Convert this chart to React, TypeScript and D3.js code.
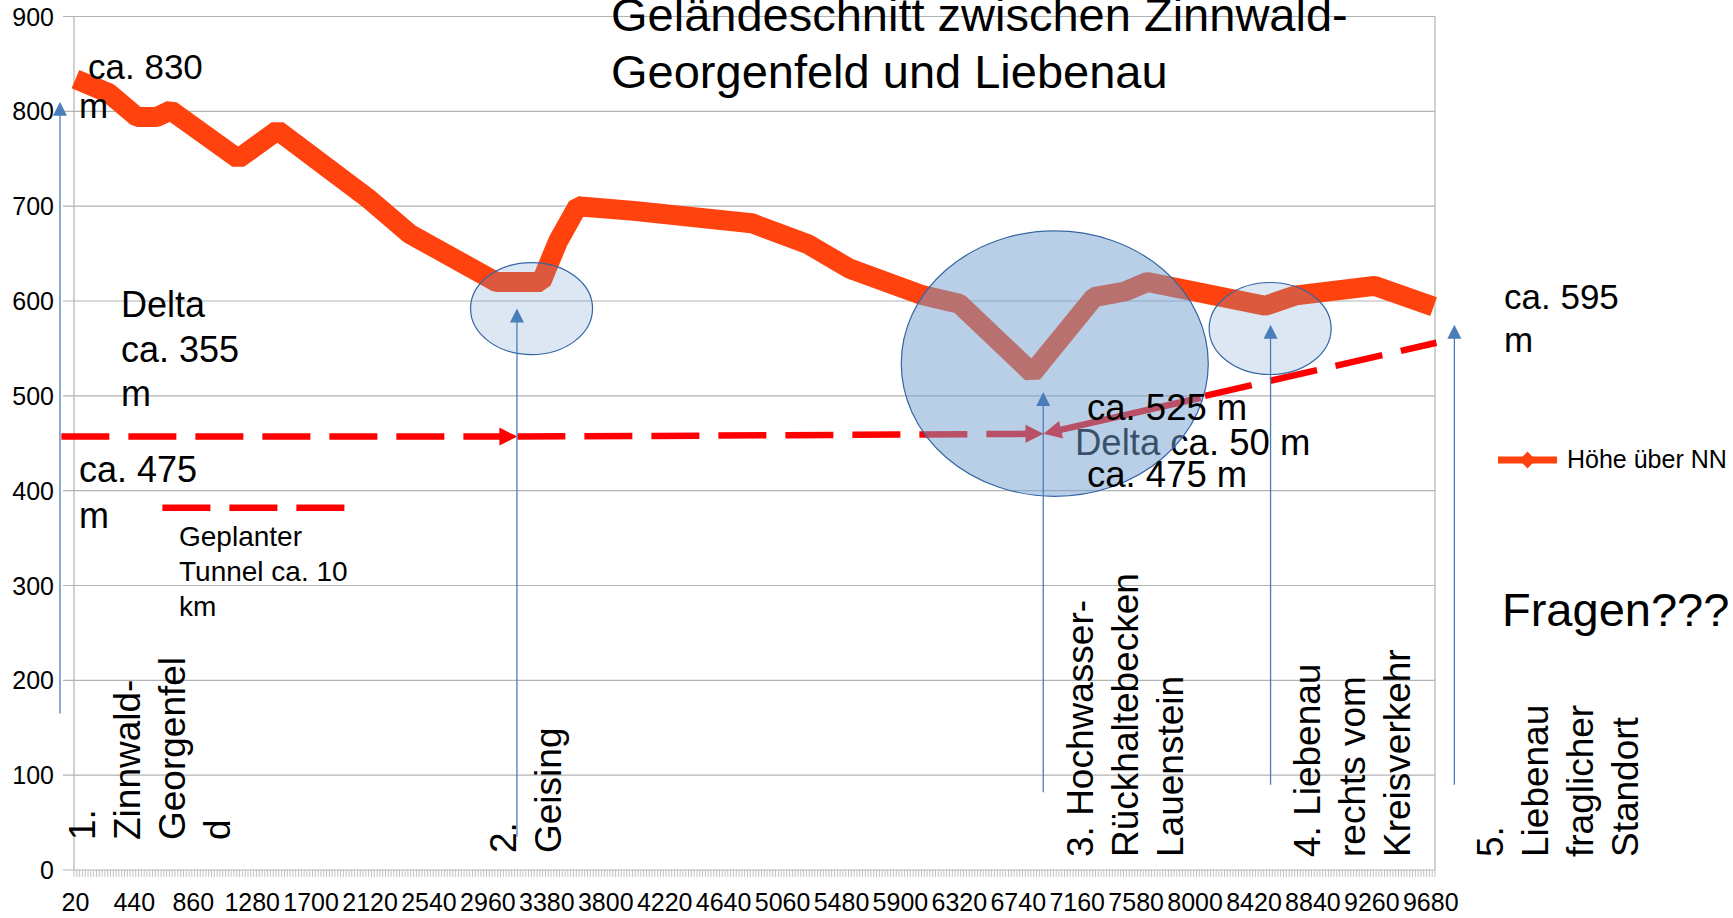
import React from 'react';
import * as d3 from 'd3';

// ---------- data ----------
const categories = d3.range(20, 9701, 20); // x-axis categories (distance in m)
const distances = [20, 260, 460, 600, 700, 1180, 1460, 2100, 2400, 3020, 3340, 3460, 3600, 4000, 4840, 5240, 5540, 6060, 6320, 6840, 7280, 7500, 7660, 8500, 8720, 9280, 9700];
const heights = [834, 819, 794, 794, 801, 750, 780, 709, 671, 620, 620, 663, 700, 695, 682, 660, 634, 606, 597, 524, 604, 610, 620, 595, 606, 616, 594];
const xTickLabels = ["20", "440", "860", "1280", "1700", "2120", "2540", "2960", "3380", "3800", "4220", "4640", "5060", "5480", "5900", "6320", "6740", "7160", "7580", "8000", "8420", "8840", "9260", "9680"];
const yTicks = [0, 100, 200, 300, 400, 500, 600, 700, 800, 900];
const seriesName = "Höhe über NN";

// annotation geometry in data units (distance, elevation)
const tunnelSegments = [
  { from: [-80, 457], to: [3170, 457], dashed: true, arrow: true },
  { from: [3170, 457], to: [6920, 460], dashed: true, arrow: true },
  { from: [8040, 498], to: [6920, 460], dashed: false, arrow: true },
  { from: [8070, 500], to: [9720, 556], dashed: true, arrow: false },
  { from: [640, 382], to: [1960, 382], dashed: true, arrow: false },
];
const pointerArrows = [
  { d: -90, from: 165, to: 810 },
  { d: 3167, from: 35, to: 592 },
  { d: 6918, from: 82, to: 504 },
  { d: 8538, from: 90, to: 575 },
  { d: 9848, from: 90, to: 575 },
];
const ellipses = [
  { d: 3271, v: 592, rx: 61, ry: 46, opacity: 0.25 },
  { d: 7000, v: 534, rx: 153.5, ry: 132.7, opacity: 0.5 },
  { d: 8535, v: 571, rx: 61, ry: 46, opacity: 0.25 },
];

const stationLabels = [
  { lines: ["1.", "Zinnwald-", "Georgenfel", "d"], x0: 95, y0: 840 },
  { lines: ["2.", "Geising"], x0: 516, y0: 853 },
  { lines: ["3. Hochwasser-", "Rückhaltebecken", "Lauenstein"], x0: 1093, y0: 857 },
  { lines: ["4. Liebenau", "rechts vom", "Kreisverkehr"], x0: 1320, y0: 857 },
  { lines: ["5.", "Liebenau", "fraglicher", "Standort"], x0: 1503, y0: 857 },
];

const FONT = "'Liberation Sans', Arial, Helvetica, sans-serif";

function arrowHead(tipX: number, tipY: number, fromX: number, fromY: number, len: number, half: number) {
  const dx = tipX - fromX, dy = tipY - fromY;
  const L = Math.sqrt(dx * dx + dy * dy) || 1;
  const ux = dx / L, uy = dy / L;
  const bx = tipX - ux * len, by = tipY - uy * len;
  const px = -uy, py = ux;
  return `M${tipX},${tipY}L${bx + px * half},${by + py * half}L${bx - px * half},${by - py * half}Z`;
}

export default function App() {
  const left = 74, right = 1435, top = 16.5, bottom = 870;
  const x = d3.scaleBand<string>().domain(categories.map(String)).range([left, right]).paddingInner(0).paddingOuter(0);
  const step = x.step();
  const cx = (d: number) => (x(String(d)) as number) + x.bandwidth() / 2;
  const xLin = d3.scaleLinear().domain([20, 9700]).range([cx(20), cx(9700)]);
  const y = d3.scaleLinear().domain([0, 900]).range([bottom, top]);

  const pts: [number, number][] = distances.map((d, i) => [d, heights[i]]);
  const line = d3.line<[number, number]>().x(p => cx(p[0])).y(p => y(p[1]));

  const grid = '#b3b3b3';
  const red = '#ff0000';
  const blue = '#4a7ebb';
  const orange = '#ff420e';

  return (
    <svg width={1733} height={918} style={{ position: 'absolute', left: 0, top: 0, background: '#fff' }} fontFamily={FONT}>
      <rect x={0} y={0} width={1733} height={918} fill="#fff" />
      {/* grid */}
      {yTicks.map(t => (
        <line key={t} x1={63} x2={right} y1={y(t)} y2={y(t)} stroke={grid} strokeWidth={1.2} />
      ))}
      <line x1={left} x2={left} y1={top} y2={bottom} stroke={grid} strokeWidth={1.2} />
      <line x1={right} x2={right} y1={top} y2={bottom} stroke={grid} strokeWidth={1.2} />
      {/* minor category ticks */}
      {d3.range(categories.length + 1).map(i => (
        <line key={'mt' + i} x1={left + i * step} x2={left + i * step} y1={bottom} y2={bottom + 7} stroke={grid} strokeWidth={0.8} />
      ))}
      {yTicks.map(t => (
        <text key={'yl' + t} x={54} y={y(t) + 9} fontSize={25} textAnchor="end" fill="#000">{t}</text>
      ))}
      {xTickLabels.map(l => (
        <text key={'xl' + l} x={cx(+l)} y={911} fontSize={25} textAnchor="middle" fill="#000">{l}</text>
      ))}

      {/* title */}
      <text x={611} y={31} fontSize={47} fill="#000">Geländeschnitt zwischen Zinnwald-</text>
      <text x={611} y={88} fontSize={47} fill="#000">Georgenfeld und Liebenau</text>

      {/* data series */}
      <path d={line(pts) as string} fill="none" stroke={orange} strokeWidth={20} strokeLinejoin="bevel" strokeLinecap="butt" />

      {/* tunnel lines */}
      {tunnelSegments.map((s, i) => {
        const x1 = xLin(s.from[0]), y1 = y(s.from[1]), x2 = xLin(s.to[0]), y2 = y(s.to[1]);
        const L = Math.hypot(x2 - x1, y2 - y1);
        const shorten = s.arrow ? 14 / L : 0;
        const ex = x2 - (x2 - x1) * shorten, ey = y2 - (y2 - y1) * shorten;
        return (
          <g key={'ts' + i}>
            <line x1={x1} y1={y1} x2={ex} y2={ey} stroke={red} strokeWidth={6.5} strokeDasharray={s.dashed ? '48 19' : undefined} />
            {s.arrow && <path d={arrowHead(x2, y2, x1, y1, 18, 9)} fill={red} />}
          </g>
        );
      })}

      {/* text under the large ellipse */}
      <text x={1075} y={455} fontSize={36.5} fill="#000">Delta ca. 50 m</text>

      {/* ellipses */}
      {ellipses.map((e, i) => (
        <g key={'el' + i}>
          <ellipse cx={xLin(e.d)} cy={y(e.v)} rx={e.rx} ry={e.ry} fill="#729fcf" fillOpacity={e.opacity} />
          <ellipse cx={xLin(e.d)} cy={y(e.v)} rx={e.rx} ry={e.ry} fill="none" stroke="#3465a4" strokeWidth={1.2} />
        </g>
      ))}

      {/* annotation texts */}
      <text x={88} y={79} fontSize={35} fill="#000">ca. 830</text>
      <text x={79} y={118} fontSize={35} fill="#000">m</text>
      <text x={121} y={317} fontSize={36} fill="#000">Delta</text>
      <text x={121} y={362} fontSize={36} fill="#000">ca. 355</text>
      <text x={121} y={406} fontSize={36} fill="#000">m</text>
      <text x={79} y={482} fontSize={36} fill="#000">ca. 475</text>
      <text x={79} y={528} fontSize={36} fill="#000">m</text>
      <text x={179} y={546} fontSize={28} fill="#000">Geplanter</text>
      <text x={179} y={581} fontSize={28} fill="#000">Tunnel ca. 10</text>
      <text x={179} y={616} fontSize={28} fill="#000">km</text>
      <text x={1087} y={420} fontSize={36.5} fill="#000">ca. 525 m</text>
      <text x={1087} y={487} fontSize={36.5} fill="#000">ca. 475 m</text>
      <text x={1504} y={309} fontSize={35} fill="#000">ca. 595</text>
      <text x={1504} y={352} fontSize={35} fill="#000">m</text>
      <text x={1502} y={626} fontSize={47} fill="#000">Fragen???</text>

      {/* station labels (rotated) */}
      {stationLabels.map((s, i) => (
        <g key={'sl' + i}>
          {s.lines.map((l, j) => (
            <text key={j} transform={`translate(${s.x0 + j * 45},${s.y0}) rotate(-90)`} fontSize={37} fill="#000">{l}</text>
          ))}
        </g>
      ))}

      {/* pointer arrows */}
      {pointerArrows.map((a, i) => {
        const px = xLin(a.d), y1 = y(a.from), y2 = y(a.to);
        return (
          <g key={'pa' + i}>
            <line x1={px} x2={px} y1={y1} y2={y2 + 10} stroke={blue} strokeWidth={1.3} />
            <path d={arrowHead(px, y2, px, y1, 14, 7)} fill={blue} />
          </g>
        );
      })}

      {/* legend */}
      <line x1={1498} x2={1557} y1={460} y2={460} stroke={orange} strokeWidth={7} />
      <path d="M1527.5,451.5L1535.5,460L1527.5,468.5L1519.5,460Z" fill={orange} />
      <text x={1567} y={468} fontSize={25} fill="#000">{seriesName}</text>
    </svg>
  );
}
